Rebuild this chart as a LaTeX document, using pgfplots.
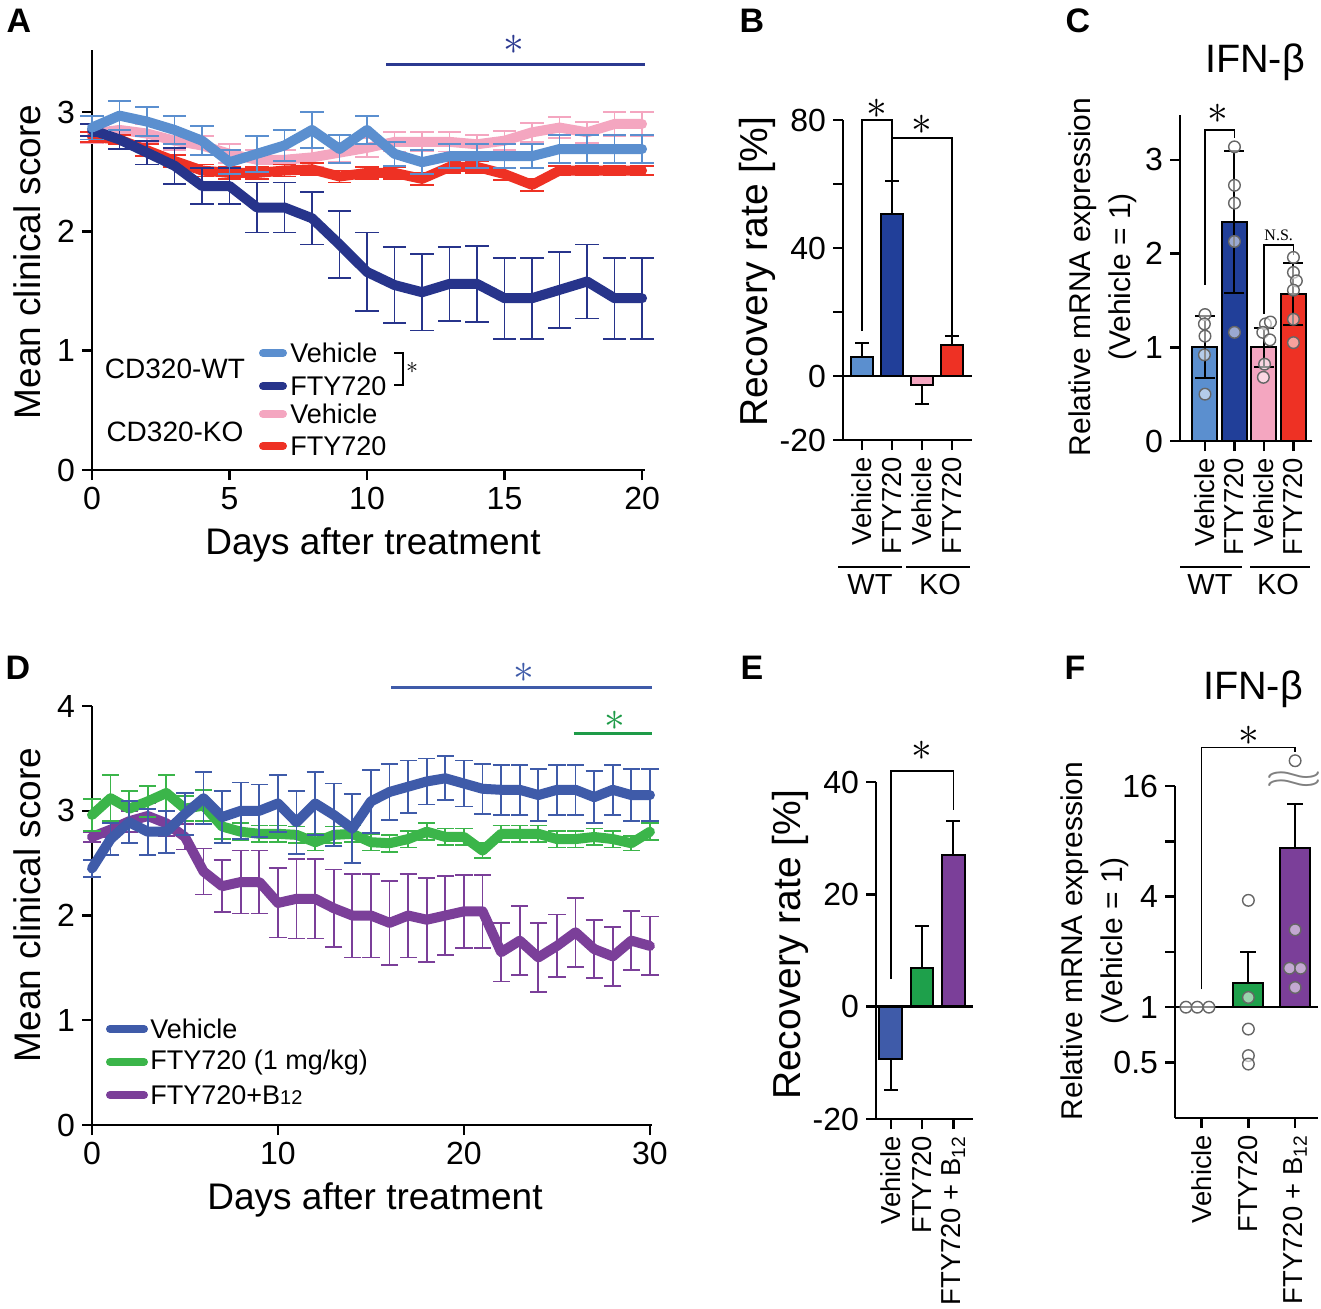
\documentclass[border=0pt]{standalone}
\usepackage{fontspec}
\setmainfont{Liberation Sans}
\newfontfamily\serifN{Liberation Serif}
\usepackage{pgfplots}
\pgfplotsset{compat=1.18}

\definecolor{wtveh}{RGB}{91,143,207}
\definecolor{wtfty}{RGB}{39,52,139}
\definecolor{koveh}{RGB}{244,166,192}
\definecolor{kofty}{RGB}{238,49,36}
\definecolor{dveh}{RGB}{63,91,169}
\definecolor{dfty}{RGB}{59,181,74}
\definecolor{db12}{RGB}{123,63,153}
\definecolor{bwtfty}{RGB}{33,63,153}
\definecolor{egreen}{RGB}{30,160,75}
\definecolor{sigblue}{RGB}{43,57,144}
\definecolor{siggreen}{RGB}{30,155,72}

\newcommand{\fs}[1]{\fontsize{#1}{#1}\selectfont}

\pgfplotsset{
  base/.style={scale only axis, clip=false, anchor=south west,
    axis lines=left, axis line style={line width=1.2pt,-},
    every outer x axis line/.append style={-}, every outer y axis line/.append style={-},
    tick style={line width=1.2pt,black}, tick align=outside, major tick length=5pt,
    tick label style={font=\fs{16}}, /pgf/number format/assume math mode=true},
  linepl/.style 2 args={line width=5pt, line join=round, line cap=round, color=#1, mark=none,
    error bars/.cd, y dir=both, y explicit, error bar style={line width=0.9pt, color=#1, line cap=butt},
    error mark options={rotate=90, mark size=#2, line width=0.9pt, color=#1}},
  barpl/.style 2 args={ybar, bar width=#2, bar shift=0pt, fill=#1, draw=black, line width=1pt},
  errup/.style={error bars/.cd, y dir=plus, y explicit, error bar style={line width=1pt,black},
    error mark options={rotate=90, mark size=#1, line width=1pt, black}},
  errdn/.style={error bars/.cd, y dir=minus, y explicit, error bar style={line width=1pt,black},
    error mark options={rotate=90, mark size=#1, line width=1pt, black}},
  errboth/.style={draw=none, mark=none, error bars/.cd, y dir=both, y explicit, error bar style={line width=1pt,black},
    error mark options={rotate=90, mark size=#1, line width=1pt, black}},
  dots/.style={only marks, mark=*, mark size=2.9pt, mark options={fill=white, fill opacity=0.55, draw=black!60, line width=0.7pt}},
  catlab/.style={xticklabel style={rotate=90, anchor=east, font=\fs{13.7}}},
}

\begin{document}
\begin{tikzpicture}
\path[use as bounding box] (0pt,0pt) rectangle (660.5pt,-654pt);

% ---------------- Panel A ----------------
\begin{axis}[base, at={(46pt,-235pt)}, width=276.4pt, height=210pt,
  xmin=0, xmax=20.1, ymin=0, ymax=3.52, xtick={0,5,10,15,20}, ytick={0,1,2,3}]
\addplot[linepl={koveh}{5.8pt}] table[x=d,y=m,y error=e] {
d m e
0 2.82 0.08
1 2.85 0.08
2 2.82 0.08
3 2.76 0.08
4 2.72 0.08
5 2.65 0.08
6 2.60 0.08
7 2.60 0.08
8 2.62 0.08
9 2.66 0.08
10 2.70 0.08
11 2.75 0.08
12 2.75 0.08
13 2.75 0.08
14 2.73 0.08
15 2.76 0.08
16 2.83 0.08
17 2.87 0.09
18 2.83 0.09
19 2.90 0.10
20 2.90 0.10
};
\addplot[linepl={kofty}{5.8pt}] table[x=d,y=m,y error=e] {
d m e
0 2.79 0.04
1 2.77 0.04
2 2.68 0.05
3 2.59 0.05
4 2.51 0.05
5 2.49 0.05
6 2.49 0.05
7 2.51 0.05
8 2.52 0.05
9 2.46 0.05
10 2.49 0.05
11 2.49 0.05
12 2.44 0.05
13 2.54 0.05
14 2.54 0.05
15 2.48 0.05
16 2.39 0.05
17 2.51 0.04
18 2.51 0.04
19 2.51 0.04
20 2.51 0.04
};
\addplot[linepl={wtfty}{5.8pt}] table[x=d,y=m,y error=e] {
d m e
0 2.85 0.05
1 2.77 0.08
2 2.66 0.10
3 2.55 0.15
4 2.38 0.15
5 2.38 0.15
6 2.20 0.21
7 2.20 0.21
8 2.11 0.22
9 1.89 0.28
10 1.66 0.33
11 1.55 0.32
12 1.49 0.32
13 1.56 0.31
14 1.56 0.32
15 1.44 0.34
16 1.44 0.34
17 1.51 0.32
18 1.58 0.31
19 1.44 0.34
20 1.44 0.34
};
\addplot[linepl={wtveh}{5.8pt}] table[x=d,y=m,y error=e] {
d m e
0 2.87 0.10
1 2.97 0.12
2 2.92 0.12
3 2.85 0.12
4 2.76 0.12
5 2.58 0.10
6 2.65 0.15
7 2.72 0.13
8 2.85 0.15
9 2.69 0.12
10 2.85 0.12
11 2.65 0.10
12 2.58 0.10
13 2.63 0.10
14 2.63 0.10
15 2.63 0.10
16 2.63 0.10
17 2.69 0.12
18 2.69 0.12
19 2.69 0.12
20 2.69 0.12
};
\draw[sigblue, line width=1.5pt] (axis cs:10.7,3.40) -- (axis cs:20.1,3.40);
\node[sigblue, inner sep=0pt] at (axis cs:15.35,3.56) {\fs{22}$\ast$};
\end{axis}

% ---------------- Panel B ----------------
\begin{axis}[base, catlab, at={(421.5pt,-220pt)}, width=64.5pt, height=160pt,
  xmin=0.367, xmax=4.667, ymin=-20, ymax=80,
  xtick={1,2,3,4}, xticklabels={Vehicle,FTY720,Vehicle,FTY720},
  ytick={-20,0,20,40,60,80}, yticklabels={-20,0,,40,,80}]
\addplot[barpl={wtveh}{11pt}, errup=3.5pt] coordinates {(1,5.8) +- (0,4.5)};
\addplot[barpl={bwtfty}{11pt}, errup=3.5pt] coordinates {(2,50.6) +- (0,10.4)};
\addplot[barpl={koveh}{11pt}, errdn=3.5pt] coordinates {(3,-2.8) +- (0,5.9)};
\addplot[barpl={kofty}{11pt}, errup=3.5pt] coordinates {(4,9.7) +- (0,2.8)};
\draw[line width=1.2pt] (axis cs:0.367,0) -- (axis cs:4.667,0);
\draw[line width=0.8pt] (axis cs:1,14) -- (axis cs:1,80) -- (axis cs:2,80) -- (axis cs:2,60.5);
\draw[line width=0.8pt] (axis cs:2,74.4) -- (axis cs:4,74.4) -- (axis cs:4,12.8);
\node[inner sep=0pt] at (axis cs:1.5,83.5) {\fs{22}$\ast$};
\node[inner sep=0pt] at (axis cs:3,78.5) {\fs{22}$\ast$};
\end{axis}

% ---------------- Panel C ----------------
\begin{axis}[base, catlab, at={(590pt,-220.5pt)}, width=66pt, height=163pt,
  xmin=0.153, xmax=4.63, ymin=0, ymax=3.48,
  xtick={1,2,3,4}, xticklabels={Vehicle,FTY720,Vehicle,FTY720}, ytick={0,1,2,3}]
\addplot[barpl={wtveh}{12.5pt}] coordinates {(1,1.0)};
\addplot[barpl={bwtfty}{12.5pt}] coordinates {(2,2.34)};
\addplot[barpl={koveh}{12.5pt}] coordinates {(3,1.0)};
\addplot[barpl={kofty}{12.5pt}] coordinates {(4,1.57)};
\addplot[dots] coordinates {(1,1.35) (0.98,1.25) (1.0,1.12) (0.98,0.92) (1.0,0.5)
  (2,3.14) (2,2.73) (2,2.54) (2,2.13) (2,1.16)
  (3.05,1.25) (3.22,1.27) (2.96,1.16) (3.2,1.08) (3.02,0.82) (2.98,0.68)
  (4,1.96) (4,1.8) (4.1,1.71) (4,1.61) (4,1.3) (4,1.05)};
\addplot[errboth=5pt] coordinates {(1,1.0) +- (0,0.33) (2,2.34) +- (0,0.76) (3,1.0) +- (0,0.21) (4,1.57) +- (0,0.33)};
\draw[line width=0.8pt] (axis cs:1,1.67) -- (axis cs:1,3.32) -- (axis cs:2,3.32) -- (axis cs:2,3.23);
\draw[line width=0.8pt] (axis cs:3,1.36) -- (axis cs:3,2.09) -- (axis cs:4,2.09) -- (axis cs:4,1.99);
\node[inner sep=0pt] at (axis cs:1.45,3.49) {\fs{22}$\ast$};
\node[inner sep=0pt] at (axis cs:3.5,2.2) {\serifN\fs{8}N.S.};
\end{axis}

% ---------------- Panel D ----------------
\begin{axis}[base, at={(46pt,-562.5pt)}, width=279.9pt, height=209.5pt,
  xmin=0, xmax=30.1, ymin=0, ymax=4, xtick={0,10,20,30}, ytick={0,1,2,3,4}]
\addplot[linepl={db12}{4.3pt}] table[x=d,y=m,y error=e] {
d m e
0 2.75 0.05
1 2.82 0.07
2 2.90 0.10
3 2.95 0.12
4 2.88 0.12
5 2.75 0.12
6 2.42 0.22
7 2.28 0.25
8 2.32 0.30
9 2.32 0.30
10 2.12 0.33
11 2.16 0.38
12 2.16 0.38
13 2.07 0.37
14 2.00 0.40
15 2.00 0.40
16 1.93 0.40
17 2.00 0.40
18 1.96 0.40
19 2.00 0.38
20 2.04 0.35
21 2.04 0.35
22 1.65 0.28
23 1.76 0.33
24 1.60 0.33
25 1.71 0.30
26 1.84 0.33
27 1.68 0.28
28 1.61 0.28
29 1.76 0.28
30 1.71 0.28
};
\addplot[linepl={dfty}{4.3pt}] table[x=d,y=m,y error=e] {
d m e
0 2.96 0.15
1 3.12 0.22
2 3.02 0.17
3 3.09 0.15
4 3.17 0.17
5 3.02 0.12
6 3.05 0.15
7 2.85 0.12
8 2.80 0.08
9 2.78 0.08
10 2.78 0.08
11 2.77 0.08
12 2.70 0.08
13 2.77 0.08
14 2.78 0.08
15 2.70 0.08
16 2.69 0.08
17 2.73 0.08
18 2.80 0.08
19 2.75 0.08
20 2.75 0.08
21 2.62 0.07
22 2.78 0.08
23 2.78 0.08
24 2.78 0.08
25 2.73 0.08
26 2.73 0.08
27 2.75 0.08
28 2.73 0.08
29 2.69 0.07
30 2.80 0.08
};
\addplot[linepl={dveh}{4.3pt}] table[x=d,y=m,y error=e] {
d m e
0 2.45 0.08
1 2.73 0.15
2 2.89 0.20
3 2.80 0.22
4 2.80 0.20
5 2.97 0.20
6 3.12 0.25
7 2.94 0.25
8 3.00 0.27
9 3.00 0.25
10 3.07 0.27
11 2.89 0.30
12 3.07 0.30
13 2.96 0.30
14 2.83 0.33
15 3.09 0.30
16 3.18 0.27
17 3.23 0.25
18 3.28 0.22
19 3.31 0.21
20 3.26 0.22
21 3.21 0.24
22 3.20 0.24
23 3.20 0.24
24 3.15 0.25
25 3.20 0.24
26 3.20 0.24
27 3.13 0.25
28 3.20 0.24
29 3.15 0.25
30 3.15 0.25
};
\draw[dveh, line width=1.5pt] (axis cs:16.1,4.18) -- (axis cs:30.1,4.18);
\node[dveh, inner sep=0pt] at (axis cs:23.2,4.32) {\fs{22}$\ast$};
\draw[siggreen, line width=1.5pt] (axis cs:25.9,3.74) -- (axis cs:30.1,3.74);
\node[siggreen, inner sep=0pt] at (axis cs:28.1,3.86) {\fs{22}$\ast$};
\end{axis}

% ---------------- Panel E ----------------
\begin{axis}[base, catlab, at={(438pt,-559.5pt)}, width=48.5pt, height=168.5pt,
  xmin=0.53, xmax=3.63, ymin=-20, ymax=40,
  xtick={1,2,3}, xticklabels={Vehicle,FTY720,FTY720 + B\textsubscript{12}},
  ytick={-20,0,20,40}]
\addplot[barpl={dveh}{11.3pt}, errdn=3.5pt] coordinates {(1,-9.3) +- (0,5.5)};
\addplot[barpl={egreen}{11.3pt}, errup=3.5pt] coordinates {(2,6.9) +- (0,7.4)};
\addplot[barpl={db12}{11.3pt}, errup=3.5pt] coordinates {(3,27.0) +- (0,6.1)};
\draw[line width=1.2pt] (axis cs:0.53,0) -- (axis cs:3.63,0);
\draw[line width=0.8pt] (axis cs:1,5) -- (axis cs:1,42) -- (axis cs:3,42) -- (axis cs:3,35);
\node[inner sep=0pt] at (axis cs:2,45.5) {\fs{22}$\ast$};
\end{axis}

% ---------------- Panel F ----------------
\begin{axis}[base, catlab, at={(587.5pt,-558.85pt)}, width=71.5pt, height=165.8pt,
  xmin=0.43, xmax=3.49, ymin=0.25, ymax=16, ymode=log, log basis y=2, log origin=0,
  xtick={1,2,3}, xticklabels={Vehicle,FTY720,FTY720 + B\textsubscript{12}},
  ytick={0.5,1,2,4,8,16}, yticklabels={0.5,1,,4,,16}]
\addplot[barpl={egreen}{15pt}, errup=4pt] coordinates {(2,1.35) +- (0,0.65)};
\addplot[barpl={db12}{15pt}, errup=4pt] coordinates {(3,7.37) +- (0,5.48)};
\draw[line width=1.2pt] (axis cs:0.43,1) -- (axis cs:3.49,1);
\addplot[dots] coordinates {(0.664,1) (0.906,1) (1.156,1)
  (2,3.82) (2,1.13) (2,0.76) (2,0.545) (2,0.49)
  (3,22) (3,2.64) (2.88,1.63) (3.12,1.63) (3,1.28)};
\node[gray, inner sep=0pt, xscale=2.2] at (axis cs:2.98,17.2) {\fs{16}$\approx$};
\draw[line width=0.8pt] (axis cs:1,1.25) -- (axis cs:1,26) -- (axis cs:3,26) -- (axis cs:3,24.5);
\node[inner sep=0pt] at (axis cs:2,30) {\fs{20}$\ast$};
\end{axis}

% ---------------- Text annotations (pixel coords) ----------------
\begin{scope}[x=0.5pt,y=-0.5pt]
\node[font=\bfseries\fs{17}] at (19,21) {A};
\node[font=\bfseries\fs{17}] at (752,21) {B};
\node[font=\bfseries\fs{17}] at (1078,21) {C};
\node[font=\bfseries\fs{17}] at (18,668) {D};
\node[font=\bfseries\fs{17}] at (752,668) {E};
\node[font=\bfseries\fs{17}] at (1075,668) {F};

\node[rotate=90, font=\fs{18.5}] at (27,262) {Mean clinical score};
\node[font=\fs{18.5}] at (373,545) {Days after treatment};
\node[rotate=90, font=\fs{18.5}] at (27,905) {Mean clinical score};
\node[font=\fs{18.5}] at (375,1200) {Days after treatment};
\node[rotate=90, font=\fs{19.5}] at (757,272) {Recovery rate [\%]};
\node[rotate=90, font=\fs{19.5}] at (790,945) {Recovery rate [\%]};
\node[rotate=90, font=\fs{15}] at (1083,277) {Relative mRNA expression};
\node[rotate=90, font=\fs{15}] at (1123,277) {(Vehicle = 1)};
\node[rotate=90, font=\fs{15}] at (1075,941) {Relative mRNA expression};
\node[rotate=90, font=\fs{15}] at (1115,941) {(Vehicle = 1)};
\node[font=\fs{19.8}, inner sep=0pt] at (1255,62) {IFN-β};
\node[font=\fs{19.8}, inner sep=0pt] at (1253,689) {IFN-β};

% group lines
\draw[line width=1pt] (838,567) -- (902,567);
\draw[line width=1pt] (906,567) -- (970,567);
\node[font=\fs{14.5}] at (870,585) {WT};
\node[font=\fs{14.5}] at (940,585) {KO};
\draw[line width=1pt] (1180,567) -- (1242,567);
\draw[line width=1pt] (1250,567) -- (1310,567);
\node[font=\fs{14.5}] at (1210,585) {WT};
\node[font=\fs{14.5}] at (1278,585) {KO};

% legend A
\node[font=\fs{14}] at (175,369) {CD320-WT};
\node[font=\fs{14}] at (175,432) {CD320-KO};
\draw[wtveh, line width=4pt, line cap=round] (263,353) -- (283,353);
\draw[wtfty, line width=4pt, line cap=round] (263,386) -- (283,386);
\draw[koveh, line width=4pt, line cap=round] (263,414) -- (283,414);
\draw[kofty, line width=4pt, line cap=round] (263,446) -- (283,446);
\node[anchor=west, font=\fs{13.5}, inner sep=0pt] at (290,353) {Vehicle};
\node[anchor=west, font=\fs{13.5}, inner sep=0pt] at (290,386) {FTY720};
\node[anchor=west, font=\fs{13.5}, inner sep=0pt] at (290,414) {Vehicle};
\node[anchor=west, font=\fs{13.5}, inner sep=0pt] at (290,446) {FTY720};
\draw[line width=0.9pt] (394,353) -- (403,353) -- (403,385) -- (394,385);
\node[inner sep=0pt] at (412,368) {\fs{13}$\ast$};

% legend D
\draw[dveh, line width=4pt, line cap=round] (110,1029) -- (144,1029);
\draw[dfty, line width=4pt, line cap=round] (110,1062) -- (144,1062);
\draw[db12, line width=4pt, line cap=round] (110,1095) -- (144,1095);
\node[anchor=west, font=\fs{13.5}, inner sep=0pt] at (150,1029) {Vehicle};
\node[anchor=west, font=\fs{13.5}, inner sep=0pt] at (150,1062) {FTY720 (1 mg/kg)};
\node[anchor=west, font=\fs{13.5}, inner sep=0pt] at (150,1095) {FTY720+B{\fs{10}12}};
\end{scope}
\end{tikzpicture}
\end{document}
